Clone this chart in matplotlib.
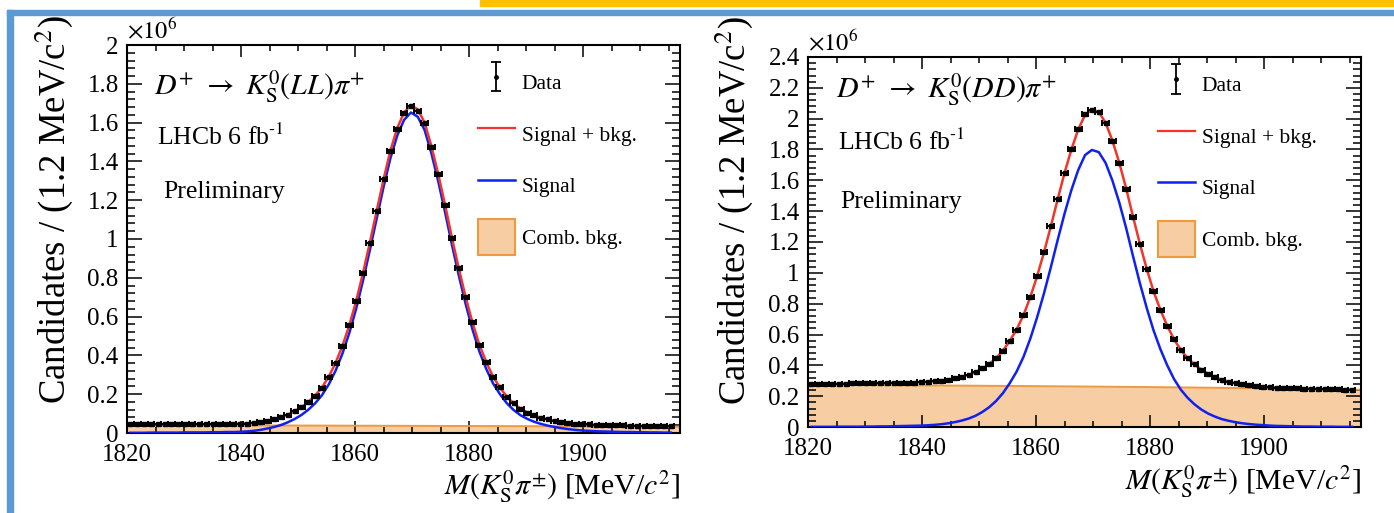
import numpy as np
import matplotlib
matplotlib.use('Agg')
import matplotlib.pyplot as plt
from matplotlib.patches import Rectangle, Patch
from matplotlib.lines import Line2D
from matplotlib.ticker import MultipleLocator, FuncFormatter
from matplotlib.legend_handler import HandlerErrorbar

plt.rcParams['font.family'] = ['Liberation Serif', 'DejaVu Serif']
plt.rcParams['mathtext.fontset'] = 'stix'

# binning: 80 bins of 1.2 MeV starting at 1820
n_bins = 80
bin_lo = 1820.0
bin_w = 1.2
centers = bin_lo + bin_w * (np.arange(n_bins) + 0.5)

# ---- K_S(LL) sample, values in units of 10^6 ----
ll_data = [
    0.044, 0.044, 0.044, 0.045, 0.045, 0.045, 0.045, 0.045, 0.045, 0.045,
    0.045, 0.045, 0.046, 0.046, 0.046, 0.047, 0.047, 0.048, 0.052, 0.057,
    0.064, 0.072, 0.081, 0.095, 0.112, 0.133, 0.159, 0.193, 0.234, 0.291,
    0.362, 0.450, 0.555, 0.679, 0.825, 0.980, 1.144, 1.307, 1.454, 1.569,
    1.649, 1.683, 1.660, 1.600, 1.476, 1.333, 1.173, 1.006, 0.848, 0.701,
    0.570, 0.456, 0.367, 0.291, 0.236, 0.188, 0.153, 0.126, 0.105, 0.091,
    0.079, 0.071, 0.064, 0.057, 0.052, 0.048, 0.045, 0.044, 0.043, 0.042,
    0.041, 0.040, 0.039, 0.038, 0.037, 0.037, 0.036, 0.035, 0.035, 0.034]
ll_total = [
    0.043, 0.043, 0.043, 0.044, 0.044, 0.044, 0.044, 0.044, 0.045, 0.045,
    0.045, 0.045, 0.046, 0.046, 0.047, 0.047, 0.048, 0.050, 0.053, 0.058,
    0.064, 0.072, 0.082, 0.095, 0.112, 0.133, 0.160, 0.193, 0.235, 0.291,
    0.362, 0.450, 0.556, 0.680, 0.825, 0.982, 1.145, 1.307, 1.455, 1.572,
    1.652, 1.690, 1.668, 1.600, 1.478, 1.333, 1.174, 1.006, 0.848, 0.701,
    0.569, 0.456, 0.366, 0.291, 0.235, 0.188, 0.153, 0.126, 0.106, 0.090,
    0.079, 0.070, 0.063, 0.057, 0.052, 0.048, 0.045, 0.043, 0.042, 0.041,
    0.040, 0.039, 0.038, 0.038, 0.037, 0.036, 0.035, 0.035, 0.034, 0.034]
ll_sig = [
    0.001, 0.001, 0.001, 0.002, 0.002, 0.002, 0.002, 0.002, 0.003, 0.003,
    0.003, 0.003, 0.004, 0.004, 0.005, 0.005, 0.006, 0.008, 0.011, 0.016,
    0.023, 0.031, 0.041, 0.055, 0.072, 0.093, 0.120, 0.153, 0.195, 0.251,
    0.322, 0.410, 0.516, 0.641, 0.786, 0.943, 1.106, 1.268, 1.416, 1.533,
    1.614, 1.652, 1.630, 1.562, 1.441, 1.296, 1.137, 0.970, 0.812, 0.665,
    0.534, 0.421, 0.331, 0.256, 0.201, 0.154, 0.119, 0.092, 0.073, 0.058,
    0.047, 0.038, 0.031, 0.025, 0.020, 0.016, 0.013, 0.011, 0.009, 0.008,
    0.007, 0.006, 0.005, 0.005, 0.004, 0.004, 0.003, 0.003, 0.002, 0.002]
ll_bkg_x = [1820, 1844, 1868, 1892, 1917]
ll_bkg = [0.041, 0.039, 0.037, 0.035, 0.032]

# ---- K_S(DD) sample ----
dd_data = [
    0.280, 0.280, 0.281, 0.281, 0.282, 0.282, 0.283, 0.283, 0.284, 0.284,
    0.285, 0.286, 0.286, 0.287, 0.288, 0.288, 0.290, 0.293, 0.297, 0.301,
    0.308, 0.317, 0.325, 0.337, 0.355, 0.380, 0.409, 0.447, 0.494, 0.558,
    0.631, 0.724, 0.843, 0.982, 1.134, 1.303, 1.481, 1.650, 1.802, 1.932,
    2.029, 2.058, 2.044, 1.971, 1.856, 1.715, 1.546, 1.364, 1.190, 1.028,
    0.880, 0.761, 0.657, 0.568, 0.498, 0.447, 0.408, 0.371, 0.345, 0.323,
    0.306, 0.295, 0.284, 0.278, 0.271, 0.267, 0.262, 0.258, 0.256, 0.254,
    0.252, 0.250, 0.249, 0.248, 0.247, 0.246, 0.245, 0.244, 0.243, 0.242]
dd_total = [
    0.279, 0.280, 0.280, 0.281, 0.281, 0.282, 0.282, 0.283, 0.283, 0.284,
    0.285, 0.285, 0.286, 0.287, 0.288, 0.289, 0.291, 0.293, 0.297, 0.302,
    0.309, 0.317, 0.327, 0.339, 0.356, 0.379, 0.409, 0.447, 0.496, 0.559,
    0.633, 0.726, 0.843, 0.980, 1.134, 1.302, 1.478, 1.648, 1.800, 1.930,
    2.025, 2.060, 2.044, 1.973, 1.857, 1.714, 1.548, 1.366, 1.190, 1.028,
    0.881, 0.761, 0.657, 0.569, 0.499, 0.446, 0.406, 0.372, 0.345, 0.323,
    0.307, 0.294, 0.284, 0.277, 0.271, 0.266, 0.262, 0.259, 0.256, 0.254,
    0.252, 0.250, 0.249, 0.248, 0.247, 0.246, 0.245, 0.244, 0.243, 0.242]
dd_sig = [
    0.001, 0.001, 0.001, 0.001, 0.002, 0.002, 0.002, 0.002, 0.003, 0.003,
    0.004, 0.004, 0.005, 0.006, 0.007, 0.008, 0.009, 0.011, 0.014, 0.018,
    0.024, 0.032, 0.042, 0.055, 0.073, 0.098, 0.129, 0.169, 0.220, 0.285,
    0.360, 0.455, 0.574, 0.713, 0.868, 1.037, 1.214, 1.384, 1.537, 1.667,
    1.764, 1.797, 1.783, 1.713, 1.598, 1.456, 1.291, 1.110, 0.935, 0.774,
    0.628, 0.506, 0.401, 0.311, 0.242, 0.189, 0.147, 0.113, 0.087, 0.067,
    0.051, 0.040, 0.031, 0.024, 0.019, 0.015, 0.012, 0.009, 0.007, 0.006,
    0.005, 0.004, 0.003, 0.003, 0.002, 0.002, 0.002, 0.001, 0.001, 0.001]
dd_bkg_x = [1820, 1840, 1860, 1880, 1900, 1917]
dd_bkg = [0.274, 0.270, 0.265, 0.259, 0.251, 0.242]

fill_col = '#F7CDA3'
edge_col = '#EE9A40'
red_col = '#F2352A'
blue_col = '#1020F0'

W, H = 1394, 513
fig = plt.figure(figsize=(W / 100, H / 100), dpi=100)

# slide decorations
fig.patches.append(Rectangle((480 / W, 1 - 6 / H), 1 - 480 / W, 6 / H,
                             transform=fig.transFigure, color='#FFC000', zorder=0))
fig.patches.append(Rectangle((7 / W, 1 - 15 / H), 1 - 7 / W, 5 / H,
                             transform=fig.transFigure, color='#5B9BD5', zorder=0))
fig.patches.append(Rectangle((7 / W, 0), 6 / W, 1 - 10 / H,
                             transform=fig.transFigure, color='#5B9BD5', zorder=0))

ax1 = fig.add_axes([127 / W, (H - 433) / H, 553 / W, 388 / H])
ax2 = fig.add_axes([808 / W, (H - 427) / H, 553 / W, 370 / H])


def draw_panel(ax, data, total, sig, bkg_x, bkg, ymax, decay, txt_pos, leg_anchor, ylab_pos, xlab_y):
    ax.fill_between(bkg_x, 0, bkg, facecolor=fill_col, edgecolor='none', zorder=1)
    ax.plot(bkg_x, bkg, color=edge_col, lw=1.4, zorder=2)
    ax.plot(centers, sig, color=blue_col, lw=1.8, zorder=3)
    ax.plot(centers, total, color=red_col, lw=1.8, zorder=4)
    ax.errorbar(centers, data, xerr=bin_w / 2, fmt='s', ms=2.8, color='k',
                elinewidth=1.5, capsize=2.2, capthick=1.4, zorder=5)

    ax.set_xlim(1820, 1917)
    ax.set_ylim(0, ymax)
    ax.xaxis.set_major_locator(MultipleLocator(20))
    ax.xaxis.set_minor_locator(MultipleLocator(5))
    ax.yaxis.set_major_locator(MultipleLocator(0.2))
    ax.yaxis.set_minor_locator(MultipleLocator(0.04))
    ax.yaxis.set_major_formatter(FuncFormatter(lambda v, p: '%g' % round(v, 3)))
    ax.tick_params(which='both', direction='in', top=True, right=True,
                   width=1.1, labelsize=18)
    ax.tick_params(axis='x', which='major', length=8.6, pad=8)
    ax.tick_params(axis='x', which='minor', length=4.5)
    ax.tick_params(axis='y', which='major', length=10.8, pad=6)
    ax.tick_params(axis='y', which='minor', length=5.5)
    for s in ax.spines.values():
        s.set_linewidth(1.5)

    ax.text(0.0, 1.004, r'$\times10^{6}$', transform=ax.transAxes,
            ha='left', va='bottom', fontsize=17.5)

    ax.set_ylabel('Candidates / (1.2 MeV/c$^{\\rm 2}$)', fontsize=26.5)
    ax.yaxis.set_label_coords(ylab_pos[0], ylab_pos[1])
    ax.set_xlabel(r'$M(K^{0}_{\rm S}\pi^{\pm})$ [MeV/$c^{2}$]', fontsize=21.5, loc='right')
    ax.xaxis.set_label_coords(1.0, xlab_y)
    ax.xaxis.label.set_va('center')

    ax.text(txt_pos[0][0], txt_pos[0][1], decay, transform=ax.transAxes,
            fontsize=21.5, ha='left', va='baseline')
    ax.text(txt_pos[1][0], txt_pos[1][1], r'LHCb 6 fb$^{\text{-1}}$', transform=ax.transAxes,
            fontsize=18.5, ha='left', va='baseline')
    ax.text(txt_pos[2][0], txt_pos[2][1], 'Preliminary', transform=ax.transAxes,
            fontsize=18.5, ha='left', va='baseline')

    data_proxy = ax.errorbar([np.nan], [np.nan], yerr=[1.0], fmt='o', ms=2.5,
                             color='k', elinewidth=1.3, capsize=3.5, capthick=1.3)
    handles = [data_proxy,
               Line2D([], [], color=red_col, lw=1.6),
               Line2D([], [], color=blue_col, lw=1.8),
               Patch(facecolor=fill_col, edgecolor=edge_col, lw=1.5)]
    labels = ['Data', 'Signal + bkg.', 'Signal', 'Comb. bkg.']
    ax.legend(handles, labels, loc='upper left', bbox_to_anchor=leg_anchor,
              frameon=False, fontsize=15.5, handlelength=1.7, handleheight=2.2,
              labelspacing=0.72, handletextpad=0.32, borderpad=0, borderaxespad=0,
              handler_map={data_proxy: HandlerErrorbar(yerr_size=0.68)})


draw_panel(ax1, ll_data, ll_total, ll_sig, ll_bkg_x, ll_bkg, 2.0,
           r'$D^{+}\ \rightarrow\ K^{0}_{\rm S}(LL)\pi^{+}$',
           [(0.049, 0.871), (0.054, 0.742), (0.065, 0.606)],
           (0.635, 0.950), (-0.094, 0.577), -0.139)
draw_panel(ax2, dd_data, dd_total, dd_sig, dd_bkg_x, dd_bkg, 2.4,
           r'$D^{+}\ \rightarrow\ K^{0}_{\rm S}(DD)\pi^{+}$',
           [(0.051, 0.889), (0.054, 0.749), (0.058, 0.592)],
           (0.633, 0.974), (-0.096, 0.584), -0.149)

fig.savefig('out.png', dpi=100)
